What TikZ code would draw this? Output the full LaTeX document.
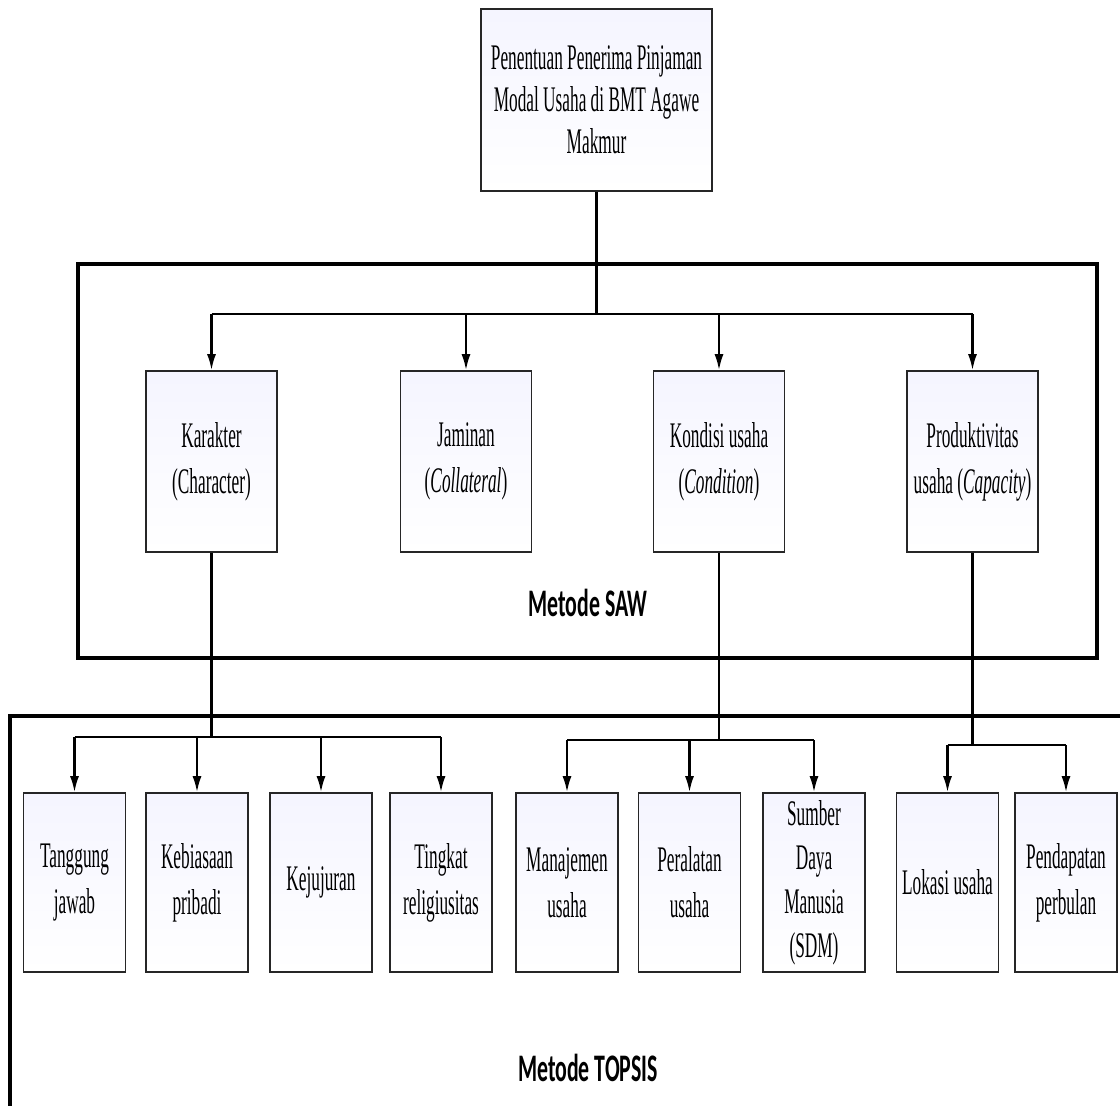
\documentclass[tikz,border=0pt]{standalone}
\usepackage{fontspec}
\setmainfont{Liberation Serif}[FakeStretch=0.48]
\newfontfamily\methodfont{Carlito}[FakeStretch=0.56]
\usetikzlibrary{arrows.meta}

\tikzset{
  crit/.style={draw=black!85, line width=1.7pt, top color=blue!4!white, bottom color=white,
    minimum width=131pt, minimum height=181pt, inner sep=0pt, align=center,
    font=\fontsize{36}{46}\selectfont},
  subcrit/.style={crit, minimum width=102pt, minimum height=179pt},
  link/.style={line width=2.1pt},
  arr/.style={link, -{Latex[length=16pt,width=9pt]}},
  methodbox/.style={line width=3.4pt},
  method/.style={font=\methodfont\bfseries\fontsize{39}{40}\selectfont}
}

\begin{document}
\begin{tikzpicture}[x=1pt,y=-1pt]
    \useasboundingbox (0,0) rectangle (1120,1106);
    \clip (0,0) rectangle (1120,1106);

    \draw[methodbox] (78,264) rectangle (1097,658);
    \draw[methodbox] (10,716) rectangle (1150,1140);
    \node[method] (saw) at (588,603) {Metode SAW};
    \node[method] (topsis) at (588,1068) {Metode TOPSIS};

    \node[crit, minimum width=231pt, minimum height=182pt, font=\fontsize{36}{42}\selectfont] (goal) at (596.5,100)
        {Penentuan Penerima Pinjaman\\Modal Usaha di BMT Agawe\\Makmur};

    \node[crit] (karakter) at (211.5,461.5) {Karakter\\(Character)};
    \node[crit] (jaminan) at (466,461.5) {Jaminan\\(\textit{Collateral})};
    \node[crit] (kondisi) at (719,461.5) {Kondisi usaha\\(\textit{Condition})};
    \node[crit] (produktivitas) at (972.5,461.5) {Produktivitas\\usaha (\textit{Capacity})};

    \node[subcrit] (tanggung) at (74.5,882.5) {Tanggung\\jawab};
    \node[subcrit] (kebiasaan) at (197,882.5) {Kebiasaan\\pribadi};
    \node[subcrit] (kejujuran) at (321,882.5) {Kejujuran};
    \node[subcrit] (tingkat) at (441,882.5) {Tingkat\\religiusitas};
    \node[subcrit] (manajemen) at (567,882.5) {Manajemen\\usaha};
    \node[subcrit] (peralatan) at (689.5,882.5) {Peralatan\\usaha};
    \node[subcrit, font=\fontsize{36}{44}\selectfont] (sdm) at (814,882.5) {Sumber\\Daya\\Manusia\\(SDM)};
    \node[subcrit] (lokasi) at (947.5,882.5) {Lokasi usaha};
    \node[subcrit] (pendapatan) at (1066,882.5) {Pendapatan\\perbulan};

    \coordinate (sawbus) at (596.5,314);
    \draw[link] (goal) -- (sawbus);
    \draw[link] (sawbus -| karakter) -- (sawbus -| produktivitas);
    \foreach \c in {karakter,jaminan,kondisi,produktivitas}
        \draw[arr] (sawbus -| \c) -- (\c);

    \coordinate (charbus) at (211.5,737);
    \draw[link] (karakter) -- (charbus);
    \draw[link] (charbus -| tanggung) -- (charbus -| tingkat);
    \foreach \c in {tanggung,kebiasaan,kejujuran,tingkat}
        \draw[arr] (charbus -| \c) -- (\c);

    \coordinate (condbus) at (719,740);
    \draw[link] (kondisi) -- (condbus);
    \draw[link] (condbus -| manajemen) -- (condbus -| sdm);
    \foreach \c in {manajemen,peralatan,sdm}
        \draw[arr] (condbus -| \c) -- (\c);

    \coordinate (capbus) at (972.5,745);
    \draw[link] (produktivitas) -- (capbus);
    \draw[link] (capbus -| lokasi) -- (capbus -| pendapatan);
    \foreach \c in {lokasi,pendapatan}
        \draw[arr] (capbus -| \c) -- (\c);
\end{tikzpicture}
\end{document}
